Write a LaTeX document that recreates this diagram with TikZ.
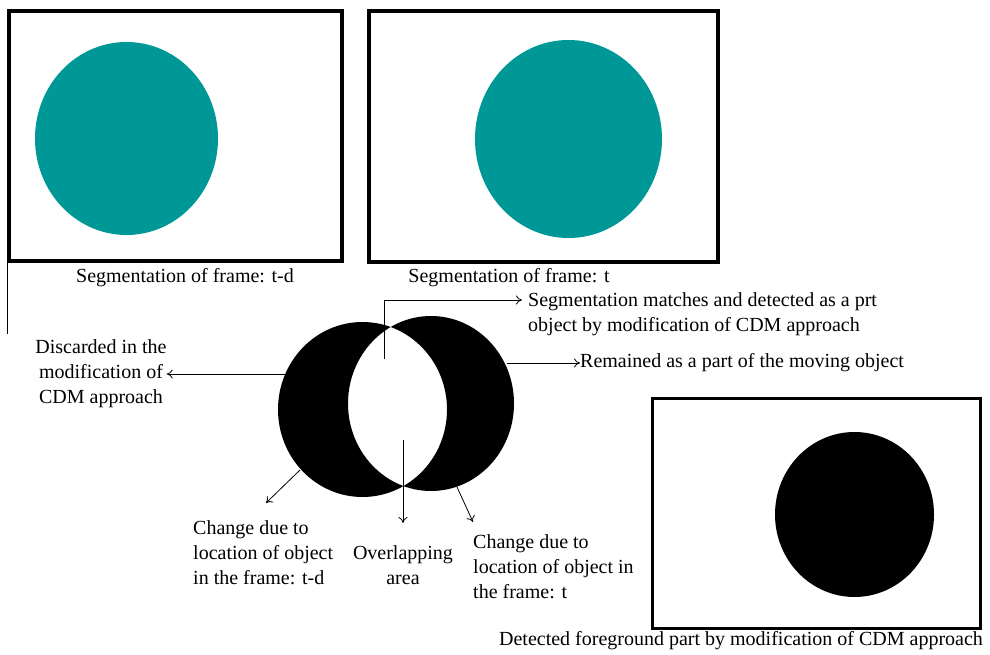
\documentclass[tikz,border=0pt]{standalone}
\usepackage{fontspec}
\setmainfont{Liberation Serif}
\usetikzlibrary{positioning,arrows.meta}
\definecolor{Teal}{HTML}{009797}

\tikzset{
  frame/.style={draw,anchor=center,inner sep=0pt},
  pointer/.style={-{To[length=6pt,width=9pt]},line width=0.8pt},
}

\begin{document}
\begin{tikzpicture}[x=1pt,y=-1pt,every node/.style={font=\fontsize{20}{25}\selectfont,inner sep=0pt}]
  \useasboundingbox (0,0) rectangle (990,655);
  % three frames
  \node[frame,line width=4pt,minimum width=333pt,minimum height=250pt] (prev) at (175.5,136) {};
  \node[frame,line width=4pt,minimum width=349pt,minimum height=251pt] (curr) at (543.5,136.5) {};
  \node[frame,line width=3pt,minimum width=328pt,minimum height=230pt] (fg) at (816,513) {};
  \fill[Teal] (126.5,138.5) ellipse [x radius=91.5pt,y radius=96.5pt];
  \fill[Teal] (568.5,139) ellipse [x radius=93.5pt,y radius=99pt];
  \fill (854.5,514.5) ellipse [x radius=79.5pt,y radius=82.5pt];
  \draw[line width=1pt] (prev.south west) -- ++(0,71);
  \node (prevcap) at (185,278) {Segmentation of frame: t-d};
  \node (currcap) at (509,278) {Segmentation of frame: t};
  \node (fgcap) at (741,641) {Detected foreground part by modification of CDM approach};
  % overlap of the two segmentations
  \fill[even odd rule] (362.5,409.5) ellipse [x radius=84.5pt,y radius=87.5pt]
    (431,403.5) ellipse [x radius=83pt,y radius=87.5pt];
  \coordinate (lens) at (384,359);
  \coordinate (matchtip) at (522,300);
  \coordinate (rimL) at (287,374);
  \coordinate (rimR) at (507,363);
  \coordinate (rimBL) at (300,470);
  \coordinate (rimBR) at (457,487);
  \coordinate (lensB) at (403,440);
  \node[anchor=west,align=left] (match) at (528,314) {Segmentation matches and detected as a prt\\object by modification of CDM approach};
  \node[anchor=west] (remain) at (580,363) {Remained as a part of the moving object};
  \node[align=center] (discard) at (101,374) {Discarded in the\\modification of\\CDM approach};
  \node[anchor=west,align=left] (chgprev) at (193,553) {Change due to\\location of object\\in the frame: t-d};
  \node[align=center] (overlap) at (403,565) {Overlapping\\area};
  \node[anchor=west,align=left] (chgcurr) at (473,567) {Change due to\\location of object in\\the frame: t};
  \coordinate (tipBL) at (266,503);
  \coordinate (tipB) at (403,523);
  \coordinate (tipBR) at (473,522);
  \draw[pointer] (lens) |- (matchtip);
  \draw[pointer] (rimR) -- (remain.west);
  \draw[pointer] (rimL) -- (discard.east);
  \draw[pointer] (rimBL) -- (tipBL);
  \draw[pointer] (lensB) -- (tipB);
  \draw[pointer] (rimBR) -- (tipBR);
\end{tikzpicture}
\end{document}
